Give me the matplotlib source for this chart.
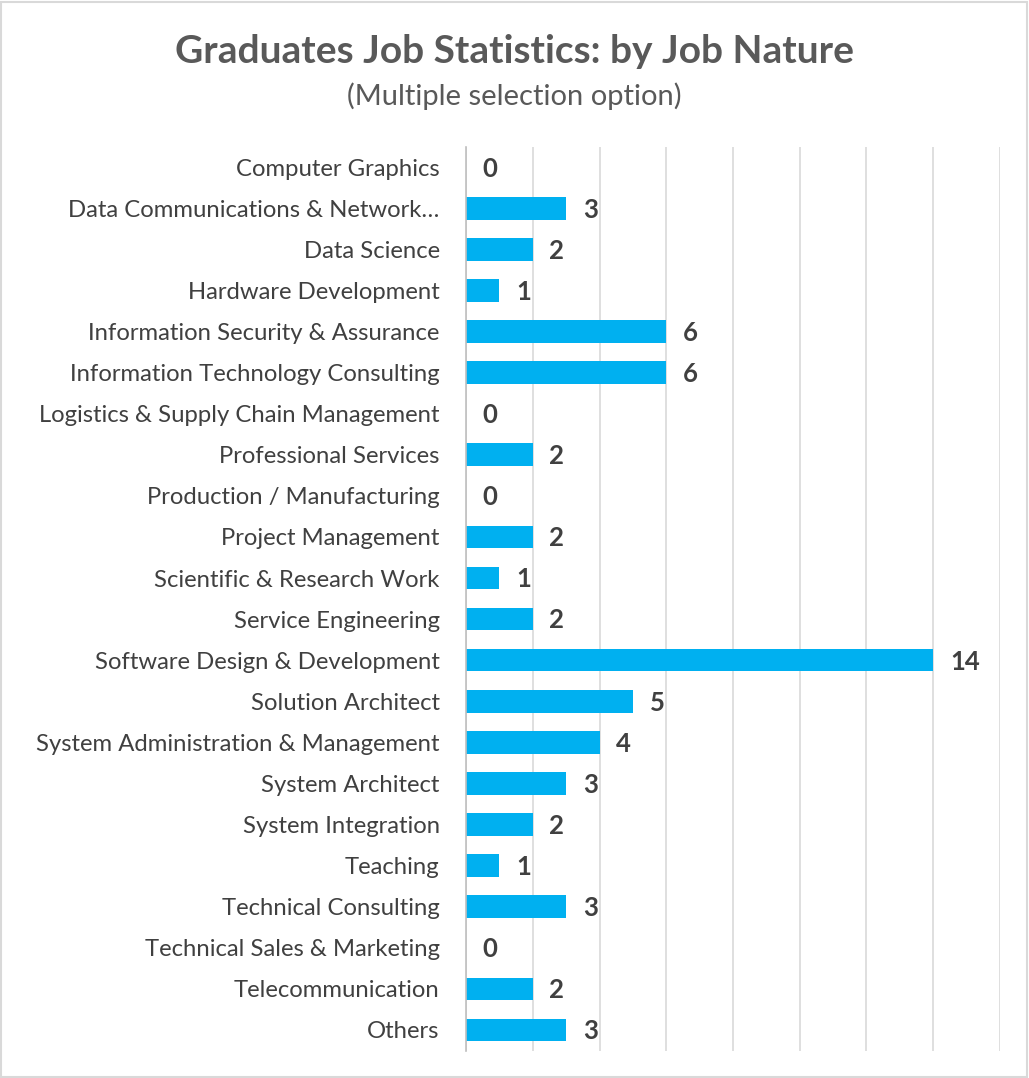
import matplotlib
matplotlib.use('Agg')
import matplotlib.pyplot as plt
from matplotlib.patches import Rectangle

categories = [
    "Computer Graphics",
    "Data Communications & Network…",
    "Data Science",
    "Hardware Development",
    "Information Security & Assurance",
    "Information Technology Consulting",
    "Logistics & Supply Chain Management",
    "Professional Services",
    "Production / Manufacturing",
    "Project Management",
    "Scientific & Research Work",
    "Service Engineering",
    "Software Design & Development",
    "Solution Architect",
    "System Administration & Management",
    "System Architect",
    "System Integration",
    "Teaching",
    "Technical Consulting",
    "Technical Sales & Marketing",
    "Telecommunication",
    "Others",
]
counts = [0, 3, 2, 1, 6, 6, 0, 2, 0, 2, 1, 2, 14, 5, 4, 3, 2, 1, 3, 0, 2, 3]
x_ticks = list(range(0, 17, 2))

BAR = '#00B0F0'
TXT = '#404040'
FONT = 'Lato'

fig = plt.figure(figsize=(10.29, 10.78), dpi=100)
ax = fig.add_axes([0.4529, 0.0255, 0.5189, 0.8385])

pos = list(range(len(categories)))
ax.barh(pos, counts, height=0.55, color=BAR, zorder=3)
ax.set_ylim(len(categories) - 0.5, -0.5)
ax.set_xlim(0, 16)
ax.set_xticks(x_ticks)
ax.set_xticklabels([])
ax.tick_params(axis='both', length=0)
ax.grid(axis='x', color='#d9d9d9', linewidth=1.2, zorder=0)
ax.set_yticks(pos)
ax.set_yticklabels(categories, fontsize=17.2, color=TXT, family=FONT)
ax.tick_params(axis='y', pad=19)
for s in ['top', 'right', 'bottom']:
    ax.spines[s].set_visible(False)
ax.spines['left'].set_color('#bfbfbf')
ax.spines['left'].set_linewidth(1.2)
ax.spines['left'].set_zorder(4)

for p, v in zip(pos, counts):
    ax.annotate(str(v), xy=(v, p), xytext=(12, -1), textcoords='offset points',
                ha='left', va='center', fontsize=18.5, fontweight='bold',
                color=TXT, family=FONT)

fig.text(0.5, 0.952, "Graduates Job Statistics: by Job Nature", ha='center', va='center',
         fontsize=28, fontweight='bold', color='#595959', family=FONT)
fig.text(0.5, 0.911, "(Multiple selection option)", ha='center', va='center',
         fontsize=21, color='#595959', family=FONT)

fig.patches.append(Rectangle((0.001, 0.001), 0.997, 0.997, transform=fig.transFigure,
                             fill=False, edgecolor='#d9d9d9', linewidth=1.5))

fig.savefig('out.png', dpi=100)
